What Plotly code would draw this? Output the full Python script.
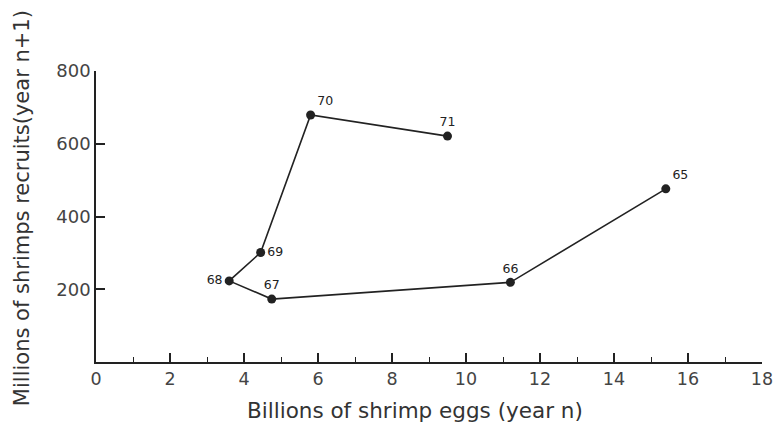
import plotly.graph_objects as go

years = ["65", "66", "67", "68", "69", "70", "71"]
eggs_billions = [15.4, 11.2, 4.75, 3.6, 4.45, 5.8, 9.5]
recruits_millions = [476, 219, 173, 223, 301, 679, 621]
label_positions = ["top right", "top center", "top center", "middle left",
                   "middle right", "top right", "top center"]
x_tickvals = [0, 2, 4, 6, 8, 10, 12, 14, 16, 18]
y_tickvals = [200, 400, 600, 800]
x_title = "Billions of shrimp eggs (year n)"
y_title = "Millions of shrimps recruits(year n+1)"

ink = "#222222"
font_family = "DejaVu Sans, Verdana, sans-serif"

fig = go.Figure()
fig.add_trace(go.Scatter(
    x=eggs_billions, y=recruits_millions,
    mode="lines+markers+text",
    text=years, textposition=label_positions,
    textfont=dict(size=12.5, color=ink, family=font_family),
    line=dict(color=ink, width=1.6),
    marker=dict(color=ink, size=9),
    showlegend=False, cliponaxis=False,
))

fig.update_layout(
    width=773, height=424,
    margin=dict(l=96, r=11, t=71, b=62),
    paper_bgcolor="white", plot_bgcolor="white",
    font=dict(family=font_family, color=ink),
    annotations=[
        dict(text=x_title, xref="paper", yref="paper", x=0.479, y=-0.165,
             xanchor="center", yanchor="middle", showarrow=False,
             font=dict(size=21.5, color="#333")),
        dict(text=y_title, xref="paper", yref="paper", x=-0.111, y=0.529,
             xanchor="center", yanchor="middle", showarrow=False, textangle=-90,
             font=dict(size=21, color="#333")),
    ],
)
fig.update_xaxes(
    range=[0, 18], tickvals=x_tickvals, automargin=False,
    ticklabeloverflow="allow",
    ticks="inside", ticklen=9, tickwidth=1.5, tickcolor=ink,
    minor=dict(dtick=1, ticks="inside", ticklen=5, tickwidth=1.2, tickcolor=ink),
    showline=True, linecolor=ink, linewidth=1.6,
    showgrid=False, zeroline=False,
    tickfont=dict(size=17.5, color="#444"),
)
fig.update_yaxes(
    range=[0, 800], tickvals=y_tickvals, automargin=False,
    ticks="inside", ticklen=9, tickwidth=1.5, tickcolor=ink,
    showline=True, linecolor=ink, linewidth=1.6,
    showgrid=False, zeroline=False,
    tickfont=dict(size=18, color="#444"),
)

# remove the default 8px page margin so the figure fills the window exactly
fig.write_html(
    "out.html",
    config={"displayModeBar": False},
    post_script="document.body.style.margin='0';document.body.style.overflow='hidden';",
)
